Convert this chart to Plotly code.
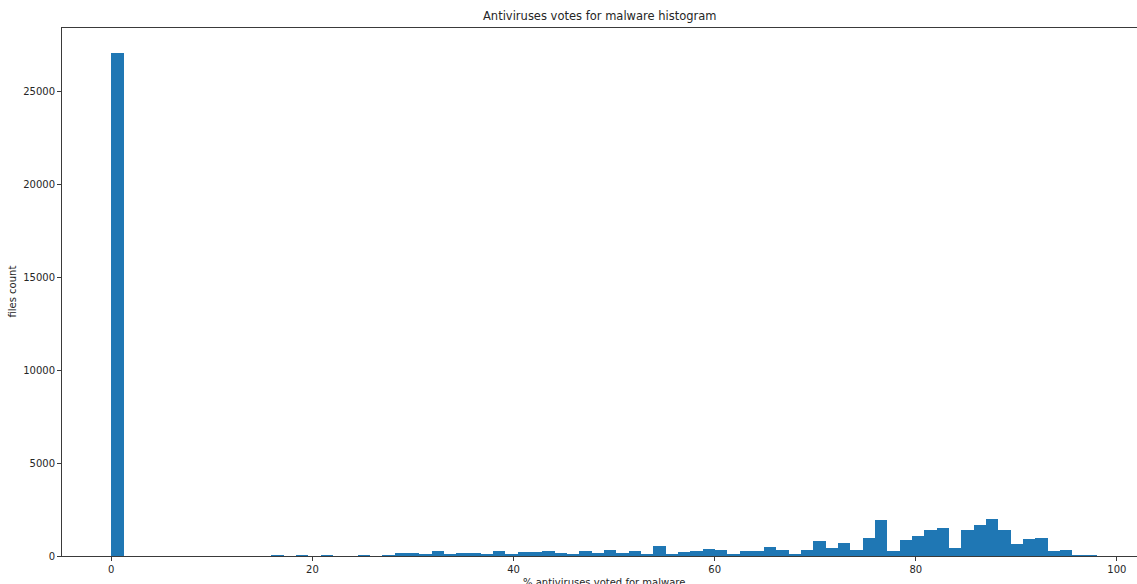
import numpy as np
import plotly.graph_objects as go

# Histogram of the share of antivirus engines flagging each file as malware
bin_start = 0.0
bin_end = 98.0
counts = [
    27040, 0, 0, 0, 0, 0, 0, 0, 0, 0,
    0, 0, 0, 40, 0, 50, 0, 45, 0, 0,
    40, 0, 50, 150, 150, 60, 260, 100, 160, 160,
    90, 290, 80, 200, 200, 290, 180, 80, 250, 180,
    340, 180, 290, 90, 560, 80, 230, 280, 400, 330,
    130, 280, 290, 460, 340, 120, 340, 820, 410, 680,
    320, 950, 1940, 290, 840, 1090, 1420, 1500, 430, 1420,
    1670, 1990, 1380, 630, 900, 950, 270, 320, 50, 50,
]
x_ticks = [0, 20, 40, 60, 80, 100]
y_ticks = [0, 5000, 10000, 15000, 20000, 25000]

title_text = "Antiviruses votes for malware histogram"
x_label = "% antiviruses voted for malware"
y_label = "files count"

edges = np.linspace(bin_start, bin_end, len(counts) + 1)
centers = (edges[:-1] + edges[1:]) / 2
widths = np.diff(edges)

span = bin_end - bin_start
x_range = [bin_start - 0.05 * span, bin_start + 102.0]
y_range = [0, max(counts) * 1.05]

FONT = "DejaVu Sans"
TXT = "#262626"
LINE = "#3a3a3a"

fig = go.Figure(
    go.Bar(
        x=centers,
        y=counts,
        width=widths,
        marker=dict(color="#1f77b4", line=dict(width=0)),
        hoverinfo="x+y",
    )
)

fig.update_layout(
    width=1137,
    height=584,
    margin=dict(l=62, r=0, t=28, b=28, autoexpand=False),
    paper_bgcolor="white",
    plot_bgcolor="white",
    bargap=0,
    showlegend=False,
    font=dict(family=FONT, size=10, color=TXT),
    annotations=[
        dict(text=title_text, xref="paper", yref="paper", x=0.5, y=1,
             yshift=3, xanchor="center", yanchor="bottom", showarrow=False,
             font=dict(family=FONT, size=11.5, color=TXT)),
        dict(text=x_label, xref="paper", yref="paper", x=0.504, y=0,
             yshift=-19, xanchor="center", yanchor="top", showarrow=False,
             font=dict(family=FONT, size=10, color=TXT)),
        dict(text=y_label, xref="paper", yref="paper", x=0, y=0.5,
             xshift=-43, xanchor="right", yanchor="middle", textangle=-90,
             showarrow=False, font=dict(family=FONT, size=10, color=TXT)),
    ],
)

fig.update_xaxes(
    range=x_range,
    tickmode="array",
    tickvals=x_ticks,
    ticktext=[str(v) for v in x_ticks],
    ticks="outside",
    ticklen=4,
    tickcolor=LINE,
    tickfont=dict(family=FONT, size=10, color=TXT),
    showgrid=False,
    zeroline=False,
    showline=True,
    linecolor=LINE,
    linewidth=1,
    mirror=True,
    automargin=False,
)
fig.update_yaxes(
    range=y_range,
    tickmode="array",
    tickvals=y_ticks,
    ticktext=[str(v) for v in y_ticks],
    ticks="outside",
    ticklen=4,
    tickcolor=LINE,
    tickfont=dict(family=FONT, size=10, color=TXT),
    showgrid=False,
    zeroline=False,
    showline=True,
    linecolor=LINE,
    linewidth=1,
    automargin=False,
)

fig.write_html("out.html")
